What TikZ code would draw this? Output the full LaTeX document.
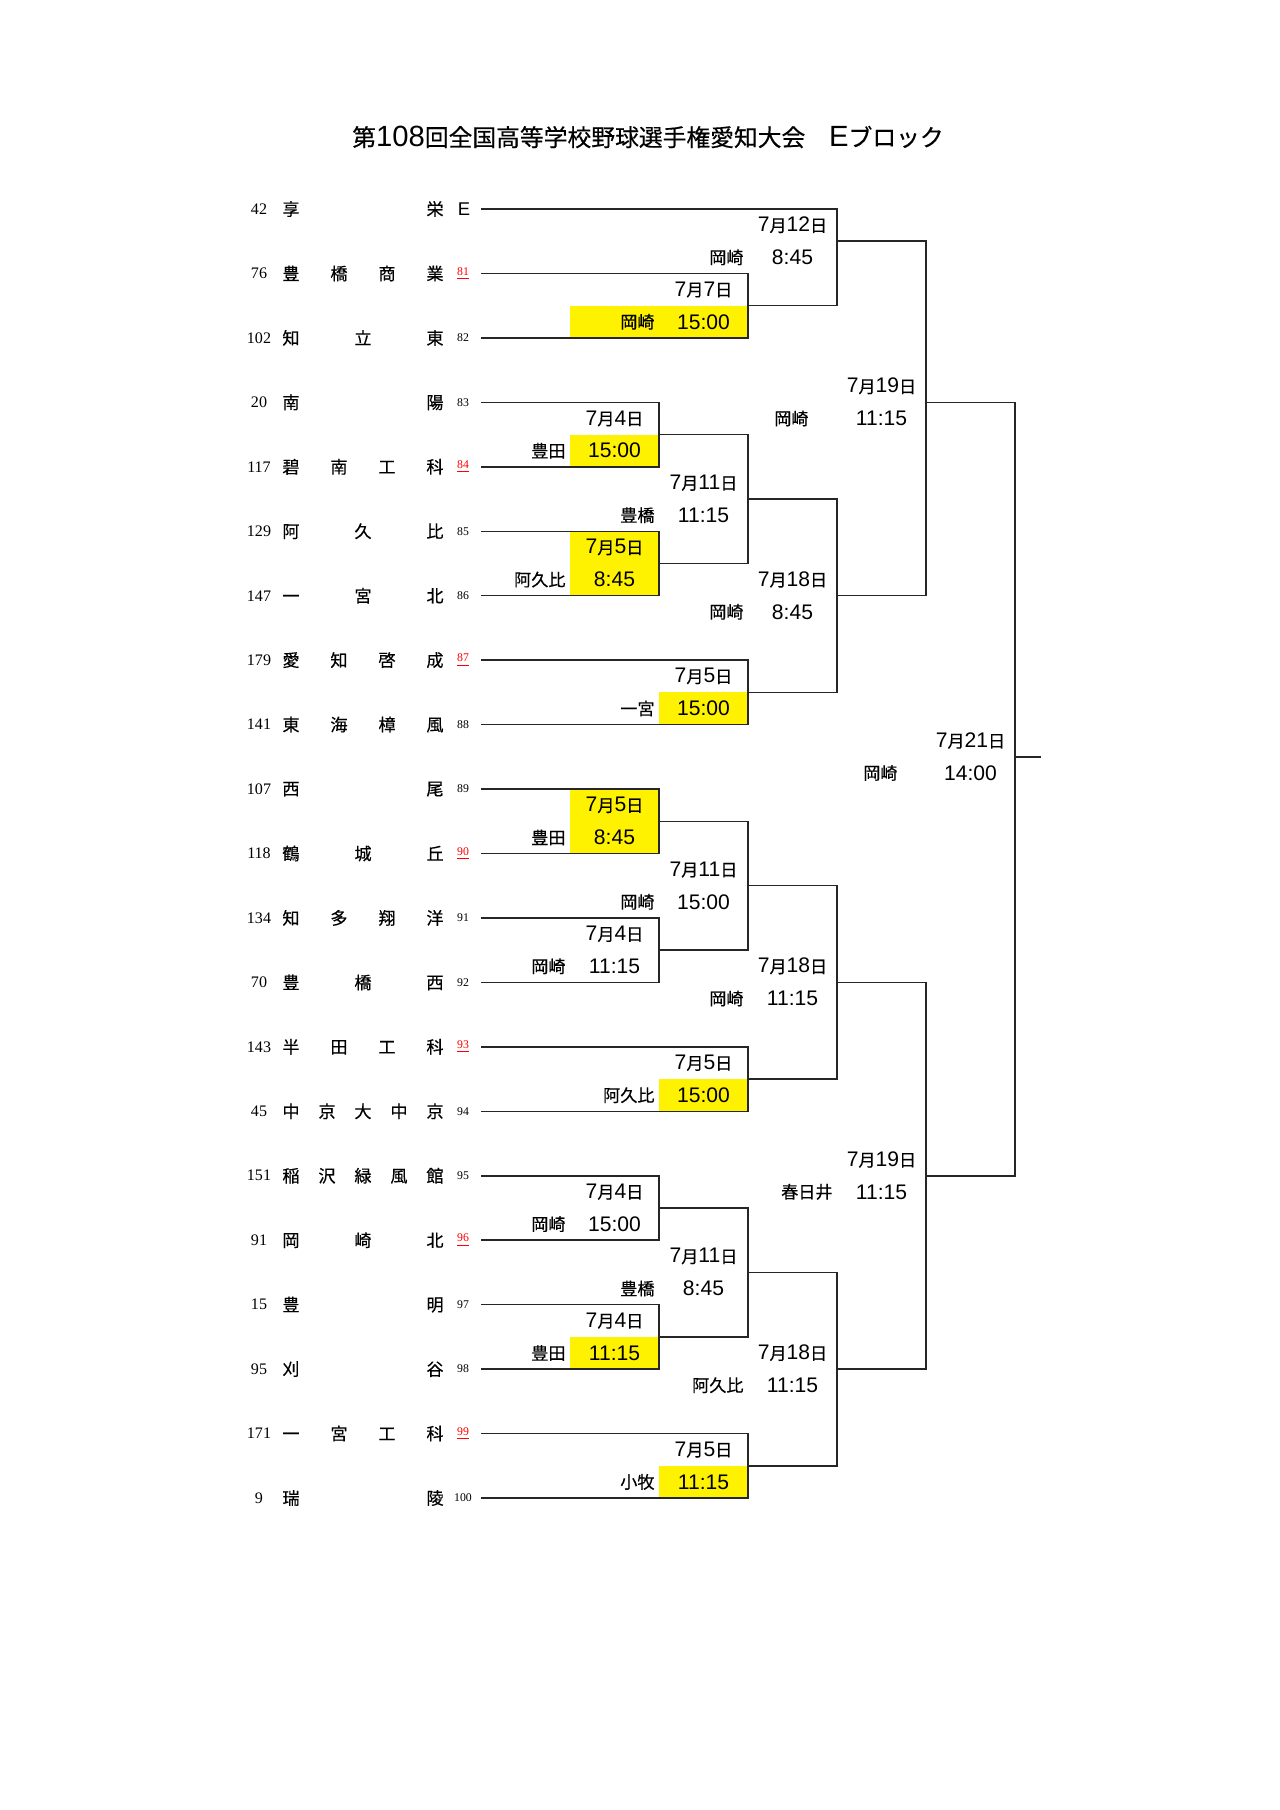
\documentclass[tikz,border=0pt]{standalone}
\usepackage{fontspec}
\setmainfont{Noto Sans CJK JP}[FakeBold=0.4]
\newfontfamily\lat{Liberation Sans}[Scale=1.23]
\newfontfamily\ser{Liberation Serif}
\newcommand\md[1]{{\lat 7}月{\lat #1}日}

\begin{document}
\begin{tikzpicture}[x=0.1640625mm, y=-0.1640625mm,
        bracket/.style={line width=0.7pt, black!85},
        hilite/.style={fill=yellow},
        seedno/.style={font=\ser\fontsize{7.5}{8}\selectfont, inner sep=0},
        school/.style={font=\fontsize{8}{9}\selectfont, inner sep=0},
        lotno/.style={font=\ser\fontsize{5.5}{6}\selectfont, inner sep=0},
        gamedate/.style={font=\fontsize{8}{9}\selectfont, inner sep=0},
        gametime/.style={font=\lat\fontsize{8}{9}\selectfont, inner sep=0},
        venue/.style={font=\fontsize{8}{9}\selectfont, inner sep=0, anchor=east}]
        \useasboundingbox (0,0) rectangle (1280,1810);

        \node[font=\fontsize{11.1}{13}\selectfont] (title) at (648,137)
            {第{\lat 108}回全国高等学校野球選手権愛知大会　{\lat E}ブロック};

        % teams
        \foreach \sd/\nm/\lt/\col [count=\i from 0] in {
            42/{享\hfill 栄}/{}/black,
            76/{豊\hfill 橋\hfill 商\hfill 業}/{\underline{81}}/red,
            102/{知\hfill 立\hfill 東}/82/black,
            20/{南\hfill 陽}/83/black,
            117/{碧\hfill 南\hfill 工\hfill 科}/{\underline{84}}/red,
            129/{阿\hfill 久\hfill 比}/85/black,
            147/{一\hfill 宮\hfill 北}/86/black,
            179/{愛\hfill 知\hfill 啓\hfill 成}/{\underline{87}}/red,
            141/{東\hfill 海\hfill 樟\hfill 風}/88/black,
            107/{西\hfill 尾}/89/black,
            118/{鶴\hfill 城\hfill 丘}/{\underline{90}}/red,
            134/{知\hfill 多\hfill 翔\hfill 洋}/91/black,
            70/{豊\hfill 橋\hfill 西}/92/black,
            143/{半\hfill 田\hfill 工\hfill 科}/{\underline{93}}/red,
            45/{中\hfill 京\hfill 大\hfill 中\hfill 京}/94/black,
            151/{稲\hfill 沢\hfill 緑\hfill 風\hfill 館}/95/black,
            91/{岡\hfill 崎\hfill 北}/{\underline{96}}/red,
            15/{豊\hfill 明}/97/black,
            95/{刈\hfill 谷}/98/black,
            171/{一\hfill 宮\hfill 工\hfill 科}/{\underline{99}}/red,
            9/{瑞\hfill 陵}/100/black}{
            \coordinate (s\i) at (481,{209+64.45*\i});
            \node[seedno] (seed\i) at (259,{209+64.45*\i}) {\sd};
            \node[school] (team\i) at (363,{209+64.45*\i}) {\makebox[\dimexpr23.625mm+1em\relax]{\nm}};
            \node[lotno, text=\col] (lot\i) at (463,{209+64.45*\i}) {\lt};
        }
        \node[font=\lat\fontsize{7}{8}\selectfont, inner sep=0] (lotE) at (464,209) {E};

        % match points
        \foreach \m/\x/\kk in {a1/659/7, a2/659/11, a3/659/19, a4/659/23, a5/659/31, a6/659/35,
            b1/748/3, b2/748/15, b3/748/27, b4/748/39, c1/748/9, c2/748/21, c3/748/33,
            d1/837/1, d2/837/12, d3/837/24, d4/837/36, e1/926/6, e2/926/30, f/1015/17}
            \coordinate (\m) at (\x,{209+32.225*\kk});
        \coordinate (w) at (1041,{209+32.225*17});

        \foreach \xa/\xb/\ka/\kb in {570/748/3/4, 570/659/7/8, 570/659/10/12, 659/748/15/16,
            570/659/18/20, 659/748/27/28, 570/659/35/36, 659/748/39/40}
            \fill[hilite] (\xa,{209+32.225*\ka}) rectangle (\xb,{209+32.225*\kb});

        % bracket
        \draw[bracket] (s3) -| (a1) |- (s4);
        \draw[bracket] (s5) -| (a2) |- (s6);
        \draw[bracket] (s9) -| (a3) |- (s10);
        \draw[bracket] (s11) -| (a4) |- (s12);
        \draw[bracket] (s15) -| (a5) |- (s16);
        \draw[bracket] (s17) -| (a6) |- (s18);
        \draw[bracket] (s1) -| (b1) |- (s2);
        \draw[bracket] (s7) -| (b2) |- (s8);
        \draw[bracket] (s13) -| (b3) |- (s14);
        \draw[bracket] (s19) -| (b4) |- (s20);
        \draw[bracket] (a1) -| (c1) |- (a2);
        \draw[bracket] (a3) -| (c2) |- (a4);
        \draw[bracket] (a5) -| (c3) |- (a6);
        \draw[bracket] (s0) -| (d1) |- (b1);
        \draw[bracket] (c1) -| (d2) |- (b2);
        \draw[bracket] (c2) -| (d3) |- (b3);
        \draw[bracket] (c3) -| (d4) |- (b4);
        \draw[bracket] (d1) -| (e1) |- (d2);
        \draw[bracket] (d3) -| (e2) |- (d4);
        \draw[bracket] (e1) -| (f) |- (e2);
        \draw[bracket] (f) -- (w);

        % dates, venues, times
        \foreach \x/\kk/\dy/\vn/\tm/\off [count=\j] in {
            659/7/4/豊田/15:00/93, 659/11/5/阿久比/8:45/93, 659/19/5/豊田/8:45/93,
            659/23/4/岡崎/11:15/93, 659/31/4/岡崎/15:00/93, 659/35/4/豊田/11:15/93,
            748/3/7/岡崎/15:00/93, 748/15/5/一宮/15:00/93, 748/27/5/阿久比/15:00/93, 748/39/5/小牧/11:15/93,
            748/9/11/豊橋/11:15/93, 748/21/11/岡崎/15:00/93, 748/33/11/豊橋/8:45/93,
            837/1/12/岡崎/8:45/93, 837/12/18/岡崎/8:45/93, 837/24/18/岡崎/11:15/93, 837/36/18/阿久比/11:15/93,
            926/6/19/岡崎/11:15/117, 926/30/19/春日井/11:15/93, 1015/17/21/岡崎/14:00/117}{
            \node[gamedate] (day\j) at ({\x-44.5},{209+32.225*(\kk-0.5)}) {\md{\dy}};
            \node[gametime] (hour\j) at ({\x-44.5},{209+32.225*(\kk+0.5)}) {\tm};
            \node[venue] (site\j) at ({\x-\off},{209+32.225*(\kk+0.5)}) {\vn};
        }
\end{tikzpicture}
\end{document}
